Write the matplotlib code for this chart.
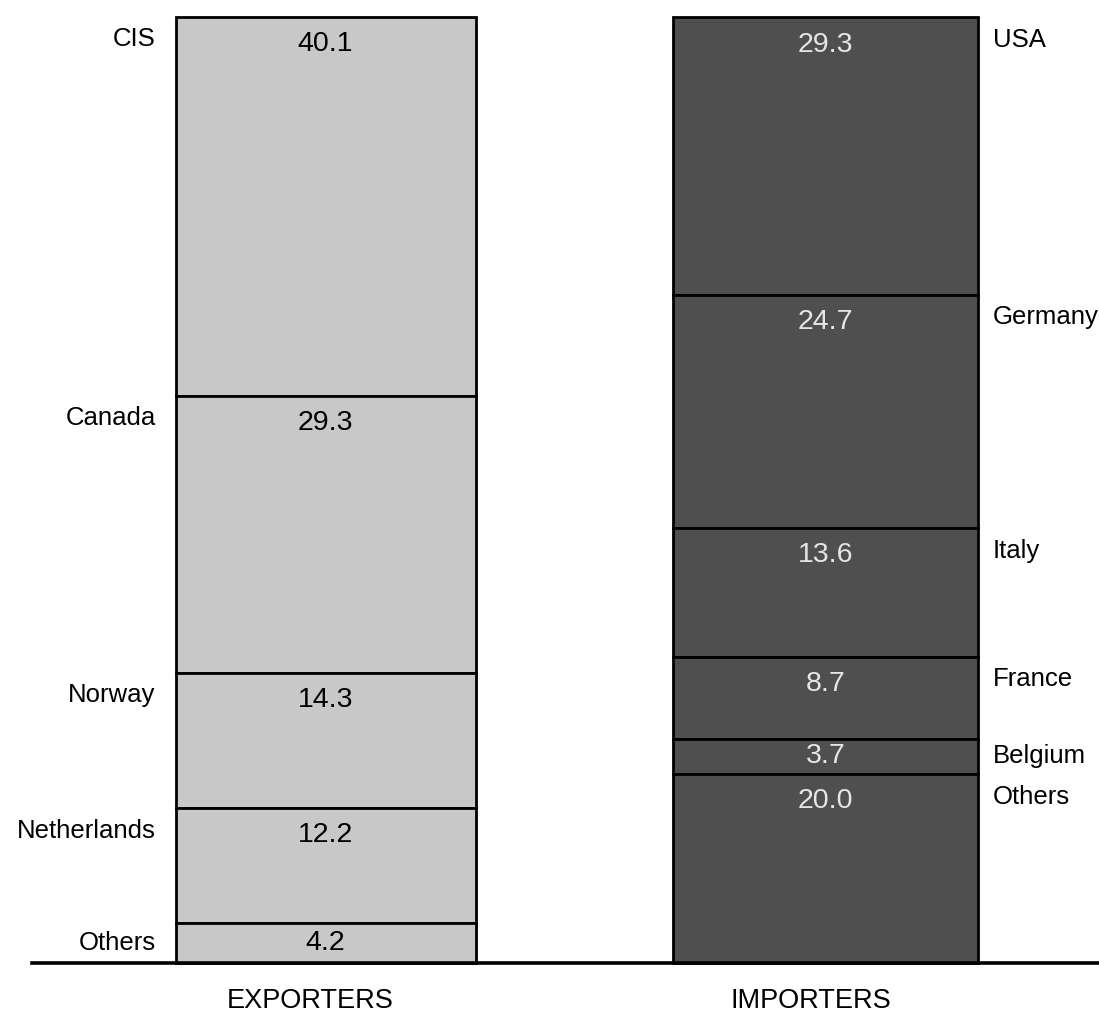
import matplotlib.pyplot as plt
import numpy as np

plt.rcParams['font.family'] = ['Liberation Sans', 'DejaVu Sans']

exp_names = ['CIS', 'Canada', 'Norway', 'Netherlands', 'Others']
exp_values = [40.1, 29.3, 14.3, 12.2, 4.2]
imp_names = ['USA', 'Germany', 'Italy', 'France', 'Belgium', 'Others']
imp_values = [29.3, 24.7, 13.6, 8.7, 3.7, 20.0]
groups = ['EXPORTERS', 'IMPORTERS']

fig = plt.figure(figsize=(10.99, 10.18), dpi=100)
ax = fig.add_axes([0, 0, 1, 1])
ax.set_xlim(-0.651, 1.547)
ax.set_ylim(-5.82, 101.85)
ax.axis('off')

width = 0.6


def stack(xpos, w, names, values, color, txtcolor, side):
    # stack from the top down, first item on top
    top = sum(values)
    for name, v in zip(names, values):
        bottom = top - v
        ax.bar(xpos, v, w, bottom=bottom, color=color,
               edgecolor='black', linewidth=2.0)
        off = min(2.9, v / 2)
        ax.text(xpos, top - off, f'{v:.1f}', ha='center', va='center',
                fontsize=20.5, color=txtcolor)
        if side == 'left':
            ax.text(xpos - w / 2 - 0.04, top - min(2.4, v / 2), name,
                    ha='right', va='center', fontsize=18.5)
        else:
            ax.text(xpos + w / 2 + 0.03, top - min(2.4, v / 2), name,
                    ha='left', va='center', fontsize=18.5)
        top = bottom


stack(0, width, exp_names, exp_values, '#c8c8c8', 'black', 'left')
stack(1, 0.61, imp_names, imp_values, '#4f4f4f', '#e6e6e6', 'right')

ax.plot([-0.587, 1.547], [0, 0], color='black', linewidth=2.6, clip_on=False)

for i, g in enumerate(groups):
    ax.text(i - 0.03, -4.0, g, ha='center', va='center', fontsize=19.5)

fig.savefig('out.png', dpi=100)
